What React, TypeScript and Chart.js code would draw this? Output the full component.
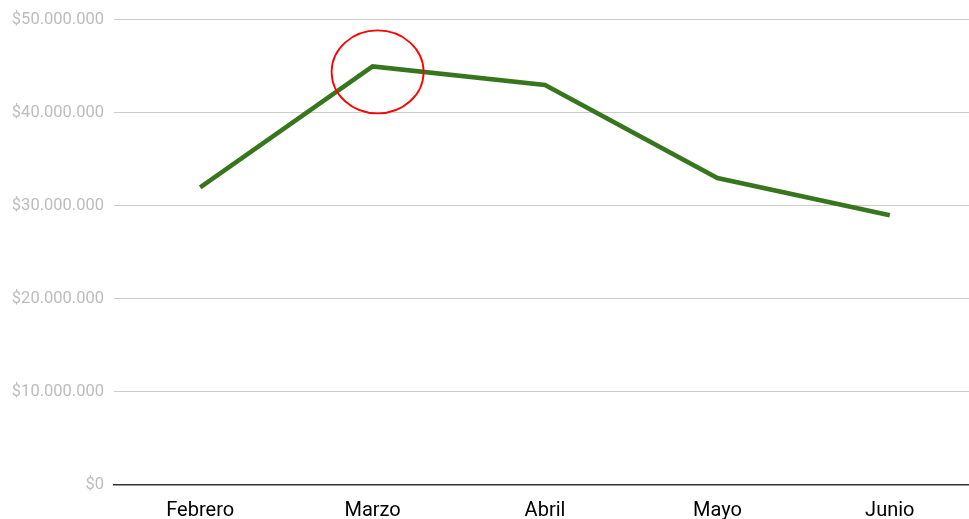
import React, { useEffect, useRef } from "react";
import { Chart, registerables } from "chart.js";

Chart.register(...registerables);

const months = ["Febrero", "Marzo", "Abril", "Mayo", "Junio"];
const sales = [32000000, 45000000, 43000000, 33000000, 29000000];
const highlightIndex = 1;

const fmt = (v: number) => "$" + Math.round(v).toString().replace(/\B(?=(\d{3})+(?!\d))/g, ".");

const circlePlugin = {
  id: "circleHighlight",
  afterDatasetsDraw(chart: any) {
    const meta = chart.getDatasetMeta(0);
    const pt = meta.data[highlightIndex];
    if (!pt) return;
    const ctx = chart.ctx;
    ctx.save();
    ctx.beginPath();
    ctx.ellipse(pt.x + 5, pt.y + 5.5, 46, 41.5, 0, 0, Math.PI * 2);
    ctx.strokeStyle = "#ff0000";
    ctx.lineWidth = 1.8;
    ctx.stroke();
    ctx.restore();
  },
};

const W = 976;
const H = 519;

export default function App() {
  const ref = useRef<HTMLCanvasElement>(null);
  useEffect(() => {
    document.body.style.margin = "0";
    document.body.style.overflow = "hidden";
    const chart = new Chart(ref.current!, {
      type: "line",
      data: {
        labels: months,
        datasets: [
          {
            data: sales,
            borderColor: "#38761d",
            borderWidth: 4.5,
            pointRadius: 0,
            tension: 0,
            fill: false,
          },
        ],
      },
      options: {
        animation: false,
        responsive: false,
        maintainAspectRatio: false,
        layout: { padding: { top: 17, right: 0, left: 0, bottom: 0 } },
        plugins: { legend: { display: false }, tooltip: { enabled: false } },
        scales: {
          x: {
            offset: true,
            grid: { display: false, offset: true },
            border: { display: true, color: "#333333", width: 1.5 },
            ticks: {
              color: "#000000",
              font: { family: "Roboto", size: 20 },
              padding: 6,
              maxRotation: 0,
            },
            afterFit(scale: any) {
              scale.height = 34;
            },
          },
          y: {
            min: 0,
            max: 50000000,
            border: { display: false },
            grid: {
              color: (c: any) => (c.tick && c.tick.value === 0 ? "rgba(0,0,0,0)" : "#cccccc"),
              lineWidth: 1,
              drawTicks: false,
            },
            ticks: {
              stepSize: 10000000,
              color: "#bdbdbd",
              font: { family: "Roboto", size: 16.5 },
              padding: 10,
              callback: (v: any) => fmt(Number(v)),
            },
            afterFit(scale: any) {
              scale.width = 114;
            },
          },
        },
      },
      plugins: [circlePlugin],
    } as any);
    return () => chart.destroy();
  }, []);
  return (
    <div style={{ position: "fixed", left: 0, top: 0, width: W, height: H }}>
      <canvas ref={ref} width={W} height={H} style={{ width: W, height: H }} />
    </div>
  );
}
